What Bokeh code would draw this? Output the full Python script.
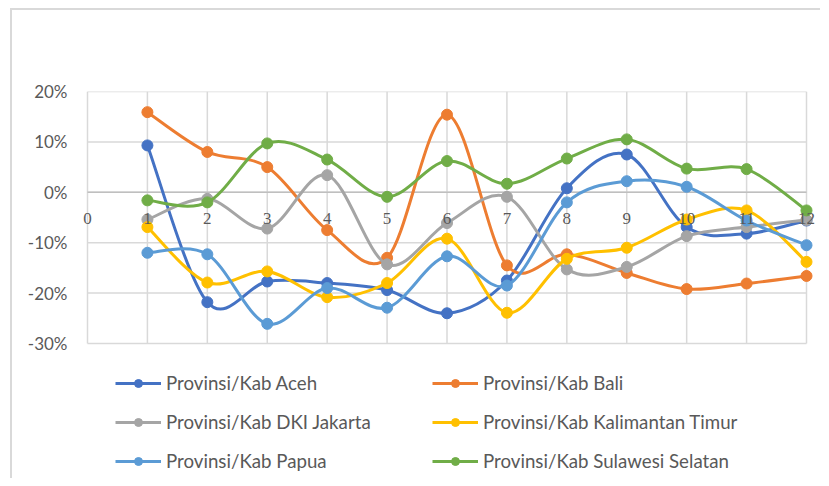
from bokeh.plotting import figure
from bokeh.models import (Range1d, FixedTicker, NumeralTickFormatter, ColumnDataSource,
                          Legend, LegendItem)
from bokeh.embed import file_html
from bokeh.resources import INLINE

months = [1, 2, 3, 4, 5, 6, 7, 8, 9, 10, 11, 12]
x_ticks = [0, 1, 2, 3, 4, 5, 6, 7, 8, 9, 10, 11, 12]
x_labels = [str(t) for t in x_ticks]
y_ticks = [-0.30, -0.20, -0.10, 0.0, 0.10, 0.20]

aceh = [0.093, -0.218, -0.177, -0.180, -0.194, -0.240, -0.175, 0.008, 0.075, -0.069, -0.082, -0.056]
bali = [0.159, 0.080, 0.050, -0.075, -0.130, 0.154, -0.145, -0.123, -0.160, -0.192, -0.181, -0.166]
dki = [-0.054, -0.013, -0.072, 0.034, -0.143, -0.061, -0.009, -0.153, -0.148, -0.087, -0.069, -0.055]
kaltim = [-0.069, -0.179, -0.157, -0.208, -0.180, -0.092, -0.239, -0.132, -0.110, -0.054, -0.036, -0.138]
papua = [-0.120, -0.123, -0.261, -0.190, -0.229, -0.127, -0.185, -0.020, 0.022, 0.011, -0.056, -0.105]
sulsel = [-0.016, -0.020, 0.097, 0.065, -0.009, 0.062, 0.017, 0.067, 0.105, 0.047, 0.046, -0.036]

names = ["Provinsi/Kab Aceh", "Provinsi/Kab Bali", "Provinsi/Kab DKI Jakarta",
         "Provinsi/Kab Kalimantan Timur", "Provinsi/Kab Papua", "Provinsi/Kab Sulawesi Selatan"]
series = [aceh, bali, dki, kaltim, papua, sulsel]
colors = ["#4472C4", "#ED7D31", "#A5A5A5", "#FFC000", "#5B9BD5", "#70AD47"]

FONT = "Lato"
TXT = "#595959"
GRID = "#D9D9D9"

# layout (pixels)
W, H = 810, 470
LEFT, RIGHT, TOP = 65, 0, 81
PLOT_L, PLOT_W = 10, 719      # plot area (0..12) inside the frame
PX_PER_X = PLOT_W / 12.0
PX_PER_Y = 504.0              # 10% = 50.4 px
frame_w = W - LEFT - RIGHT
frame_h = H - TOP
x_start = 0 - PLOT_L / PX_PER_X
x_end = x_start + frame_w / PX_PER_X
y_top = 0.20
y_bottom = y_top - frame_h / PX_PER_Y   # frame extends below the plot for the legend

p = figure(width=W, height=H, output_backend="svg", toolbar_location=None,
           x_range=Range1d(x_start, x_end), y_range=Range1d(y_bottom, y_top),
           x_axis_location=None,
           min_border_left=LEFT, min_border_right=RIGHT, min_border_top=TOP, min_border_bottom=0)
p.styles = {"border-top": "2px solid #D9D9D9", "border-left": "2px solid #D9D9D9",
            "margin-left": "10px", "margin-top": "8px"}
p.outline_line_color = None
p.background_fill_color = "white"

p.yaxis.ticker = FixedTicker(ticks=y_ticks)
p.yaxis.formatter = NumeralTickFormatter(format="0%")
p.yaxis.axis_line_color = None
p.yaxis.major_tick_line_color = None
p.yaxis.minor_tick_line_color = None
p.yaxis.major_tick_out = 0
p.yaxis.major_label_standoff = 10
p.yaxis.major_label_text_font = FONT
p.yaxis.major_label_text_font_size = "17px"
p.yaxis.major_label_text_color = TXT

p.xgrid.visible = False
p.ygrid.visible = False

# gridlines limited to the plot area
n_x = len(x_ticks)
n_y = len(y_ticks)
p.segment(x0=x_ticks, y0=[y_ticks[0]] * n_x, x1=x_ticks, y1=[y_ticks[-1]] * n_x,
          line_color=GRID, line_width=1.5)
p.segment(x0=[x_ticks[0]] * n_y, y0=y_ticks, x1=[x_ticks[-1]] * n_y, y1=y_ticks,
          line_color=GRID, line_width=1.5)
# horizontal axis line at 0
p.segment(x0=[x_ticks[0]], y0=[0], x1=[x_ticks[-1]], y1=[0], line_color="#BFBFBF", line_width=1.5)


def smooth_segments(xs, ys):
    n = len(xs)
    pts = list(zip(xs, ys))
    d = dict(x0=[], y0=[], x1=[], y1=[], cx0=[], cy0=[], cx1=[], cy1=[])
    for i in range(n - 1):
        p0 = pts[max(i - 1, 0)]
        p1 = pts[i]
        p2 = pts[i + 1]
        p3 = pts[min(i + 2, n - 1)]
        d["x0"].append(p1[0]); d["y0"].append(p1[1])
        d["x1"].append(p2[0]); d["y1"].append(p2[1])
        d["cx0"].append(p1[0] + (p2[0] - p0[0]) / 6.0)
        d["cy0"].append(p1[1] + (p2[1] - p0[1]) / 6.0)
        d["cx1"].append(p2[0] - (p3[0] - p1[0]) / 6.0)
        d["cy1"].append(p2[1] - (p3[1] - p1[1]) / 6.0)
    return d


items = []
for name, vals, col in zip(names, series, colors):
    seg = ColumnDataSource(smooth_segments(months, vals))
    rl = p.bezier(x0="x0", y0="y0", x1="x1", y1="y1", cx0="cx0", cy0="cy0",
                  cx1="cx1", cy1="cy1", source=seg, line_color=col, line_width=3)
    rs = p.scatter(months, vals, size=11, marker="circle", fill_color=col, line_color=col)
    items.append(LegendItem(label=name, renderers=[rl, rs]))

# category (x) labels sitting on the 0% line
p.text(x=x_ticks, y=[0] * n_x, text=x_labels, text_align="center",
       text_baseline="middle", y_offset=26, text_font="Lato", text_font_size="17px",
       text_color=TXT)


def make_legend(its, loc):
    return Legend(items=its, location=loc, orientation="vertical",
                  glyph_width=46, glyph_height=20, label_height=20, label_standoff=5,
                  spacing=17, padding=0, margin=0,
                  border_line_color=None, background_fill_alpha=0,
                  label_text_font=FONT, label_text_font_size="18.7px", label_text_color=TXT)


p.add_layout(make_legend([items[0], items[2], items[4]], (PLOT_L + 28, 8)))
p.add_layout(make_legend([items[1], items[3], items[5]], (PLOT_L + 345, 8)))

open("out.html", "w").write(file_html(p, INLINE))
